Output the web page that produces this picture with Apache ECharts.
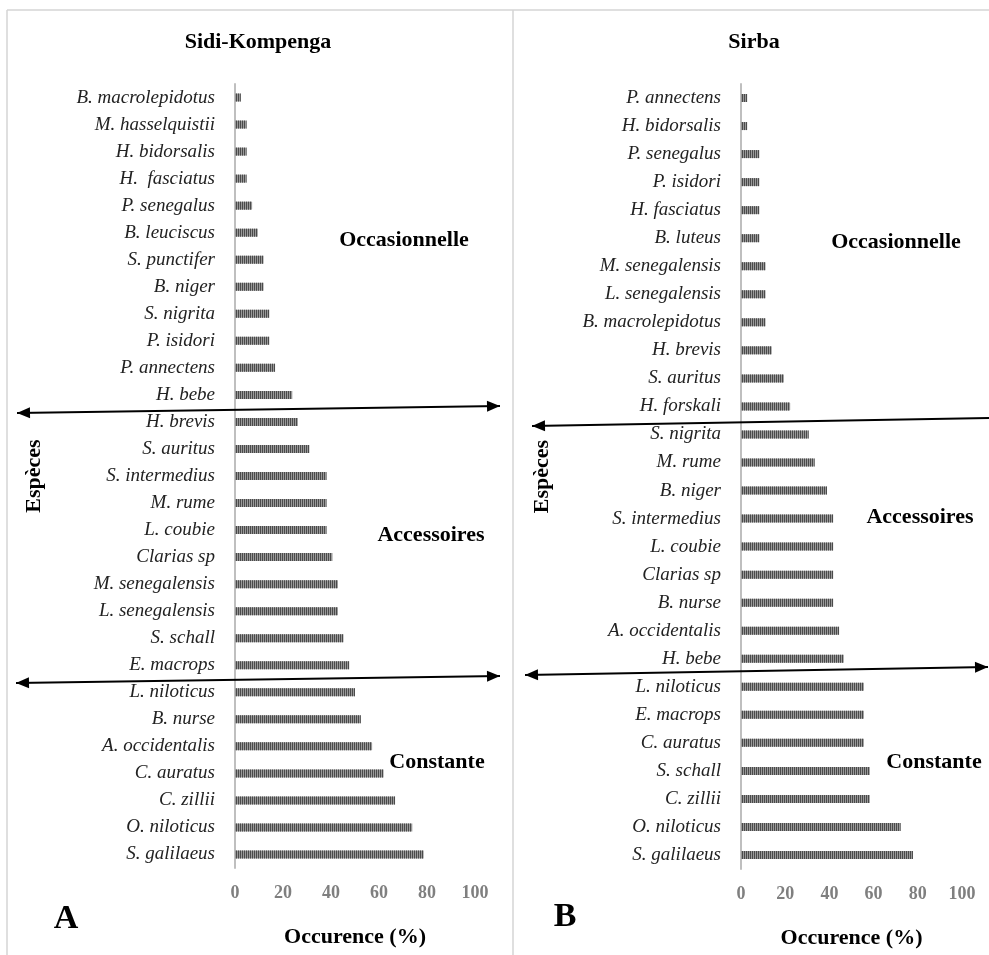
<!DOCTYPE html>
<html>
<head>
<meta charset="utf-8">
<script src="https://cdn.jsdelivr.net/npm/echarts@6/dist/echarts.min.js"></script>
<style>
html,body{margin:0;padding:0;background:#fff;}
#c{width:989px;height:955px;}
</style>
</head>
<body>
<div id="c"></div>
<script>
// ---- Data ----
const sidiSpecies = ["B. macrolepidotus","M. hasselquistii","H. bidorsalis","H.  fasciatus","P. senegalus","B. leuciscus","S. punctifer","B. niger","S. nigrita","P. isidori","P. annectens","H. bebe","H. brevis","S. auritus","S. intermedius","M. rume","L. coubie","Clarias sp","M. senegalensis","L. senegalensis","S. schall","E. macrops","L. niloticus","B. nurse","A. occidentalis","C. auratus","C. zillii","O. niloticus","S. galilaeus"];
const sidiValues = [2.4,4.8,4.8,4.8,7.1,9.5,11.9,11.9,14.3,14.3,16.7,23.8,26.2,31.0,38.1,38.1,38.1,40.5,42.9,42.9,45.2,47.6,50.0,52.4,57.1,61.9,66.7,73.8,78.6];
const sirbaSpecies = ["P. annectens","H. bidorsalis","P. senegalus","P. isidori","H. fasciatus","B. luteus","M. senegalensis","L. senegalensis","B. macrolepidotus","H. brevis","S. auritus","H. forskali","S. nigrita","M. rume","B. niger","S. intermedius","L. coubie","Clarias sp","B. nurse","A. occidentalis","H. bebe","L. niloticus","E. macrops","C. auratus","S. schall","C. zillii","O. niloticus","S. galilaeus"];
const sirbaValues = [2.8,2.8,8.3,8.3,8.3,8.3,11.1,11.1,11.1,13.9,19.4,22.2,30.6,33.3,38.9,41.7,41.7,41.7,41.7,44.4,46.5,55.6,55.6,55.6,58.3,58.3,72.2,77.8];
const xTicks = [0,20,40,60,80,100];
const panelTitles = ["Sidi-Kompenga","Sirba"];
const panelLetters = ["A","B"];
const classNames = ["Occasionnelle","Accessoires","Constante"];

const SERIF = "'Liberation Serif','Times New Roman',serif";

function xAxisCfg(idx){
  return {
    gridIndex: idx, type:'value', min:0, max:100, interval:20,
    axisLine:{show:false}, axisTick:{show:false}, splitLine:{show:false},
    axisLabel:{margin:16, fontFamily:SERIF, fontWeight:'bold', fontSize:18, color:'#7f7f7f',
      formatter: v => xTicks.indexOf(v) >= 0 ? String(v) : ''},
    name:'Occurence (%)', nameLocation:'middle', nameGap:58,
    nameTextStyle:{fontFamily:SERIF, fontWeight:'bold', fontSize:22, color:'#000'}
  };
}
function yAxisCfg(idx, cats, gap){
  return {
    gridIndex: idx, type:'category', data:cats, inverse:true,
    axisLine:{show:true, lineStyle:{color:'#bfbfbf', width:2}},
    axisTick:{show:false}, splitLine:{show:false},
    axisLabel:{margin:20, fontFamily:SERIF, fontStyle:'italic', fontSize:19, color:'#222'},
    name:'Espèces', nameLocation:'middle', nameGap:gap, nameRotate:90,
    nameTextStyle:{fontFamily:SERIF, fontWeight:'bold', fontSize:22, color:'#000'}
  };
}
const barStyle = {
  color:'#999999',
  decal:{symbol:'rect', symbolSize:1, dashArrayX:[1,1], dashArrayY:[4,0], rotation:0, color:'#4a4a4a'}
};

function arrow(x1,y1,x2,y2,startHead,endHead){
  const els = [{type:'line', shape:{x1:x1,y1:y1,x2:x2,y2:y2}, style:{stroke:'#000', lineWidth:2}, z:100}];
  const ang = Math.atan2(y2-y1, x2-x1);
  const L = 13, W = 5.5;
  function head(tx,ty,a){
    const bx = tx - L*Math.cos(a), by = ty - L*Math.sin(a);
    const px = -Math.sin(a)*W, py = Math.cos(a)*W;
    return {type:'polygon', shape:{points:[[tx,ty],[bx+px,by+py],[bx-px,by-py]]}, style:{fill:'#000'}, z:100};
  }
  if (startHead) els.push(head(x1,y1,ang+Math.PI));
  if (endHead) els.push(head(x2,y2,ang));
  return els;
}
function txt(x,y,s,size,extra){
  return Object.assign({type:'text', x:x, y:y, z:100,
    style:{text:s, font:'bold '+size+'px '+SERIF, fill:'#000', align:'center', verticalAlign:'middle'}}, extra||{});
}

const graphics = [].concat(
  [
    {type:'line', shape:{x1:7,y1:10,x2:989,y2:10}, style:{stroke:'#d4d4d4', lineWidth:1.5}},
    {type:'line', shape:{x1:7,y1:10,x2:7,y2:955}, style:{stroke:'#d4d4d4', lineWidth:1.5}},
    {type:'line', shape:{x1:513,y1:10,x2:513,y2:955}, style:{stroke:'#d4d4d4', lineWidth:1.5}}
  ],
  arrow(17,413,500,406,true,true),
  arrow(16,683,500,676,true,true),
  arrow(532,426,992,418,true,false),
  arrow(525,675,988,667,true,true),
  [
    txt(258,42,panelTitles[0],22),
    txt(754,42,panelTitles[1],22),
    txt(66,919,panelLetters[0],34),
    txt(565,917,panelLetters[1],34),
    txt(404,240,classNames[0],22),
    txt(431,535,classNames[1],22),
    txt(437,762,classNames[2],22),
    txt(896,242,classNames[0],22),
    txt(920,517,classNames[1],22),
    txt(934,762,classNames[2],22)
  ]
);

const chart = echarts.init(document.getElementById('c'), null, {renderer:'canvas'});
chart.setOption({
  animation:false,
  backgroundColor:'#fff',
  grid:[
    {left:235, top:84, width:240, height:784},
    {left:741, top:84, width:221, height:785}
  ],
  xAxis:[xAxisCfg(0), xAxisCfg(1)],
  yAxis:[yAxisCfg(0, sidiSpecies, 190), yAxisCfg(1, sirbaSpecies, 188)],
  series:[
    {type:'bar', xAxisIndex:0, yAxisIndex:0, data:sidiValues, barWidth:8, itemStyle:barStyle},
    {type:'bar', xAxisIndex:1, yAxisIndex:1, data:sirbaValues, barWidth:8, itemStyle:barStyle}
  ],
  graphic:graphics
});
</script>
</body>
</html>
